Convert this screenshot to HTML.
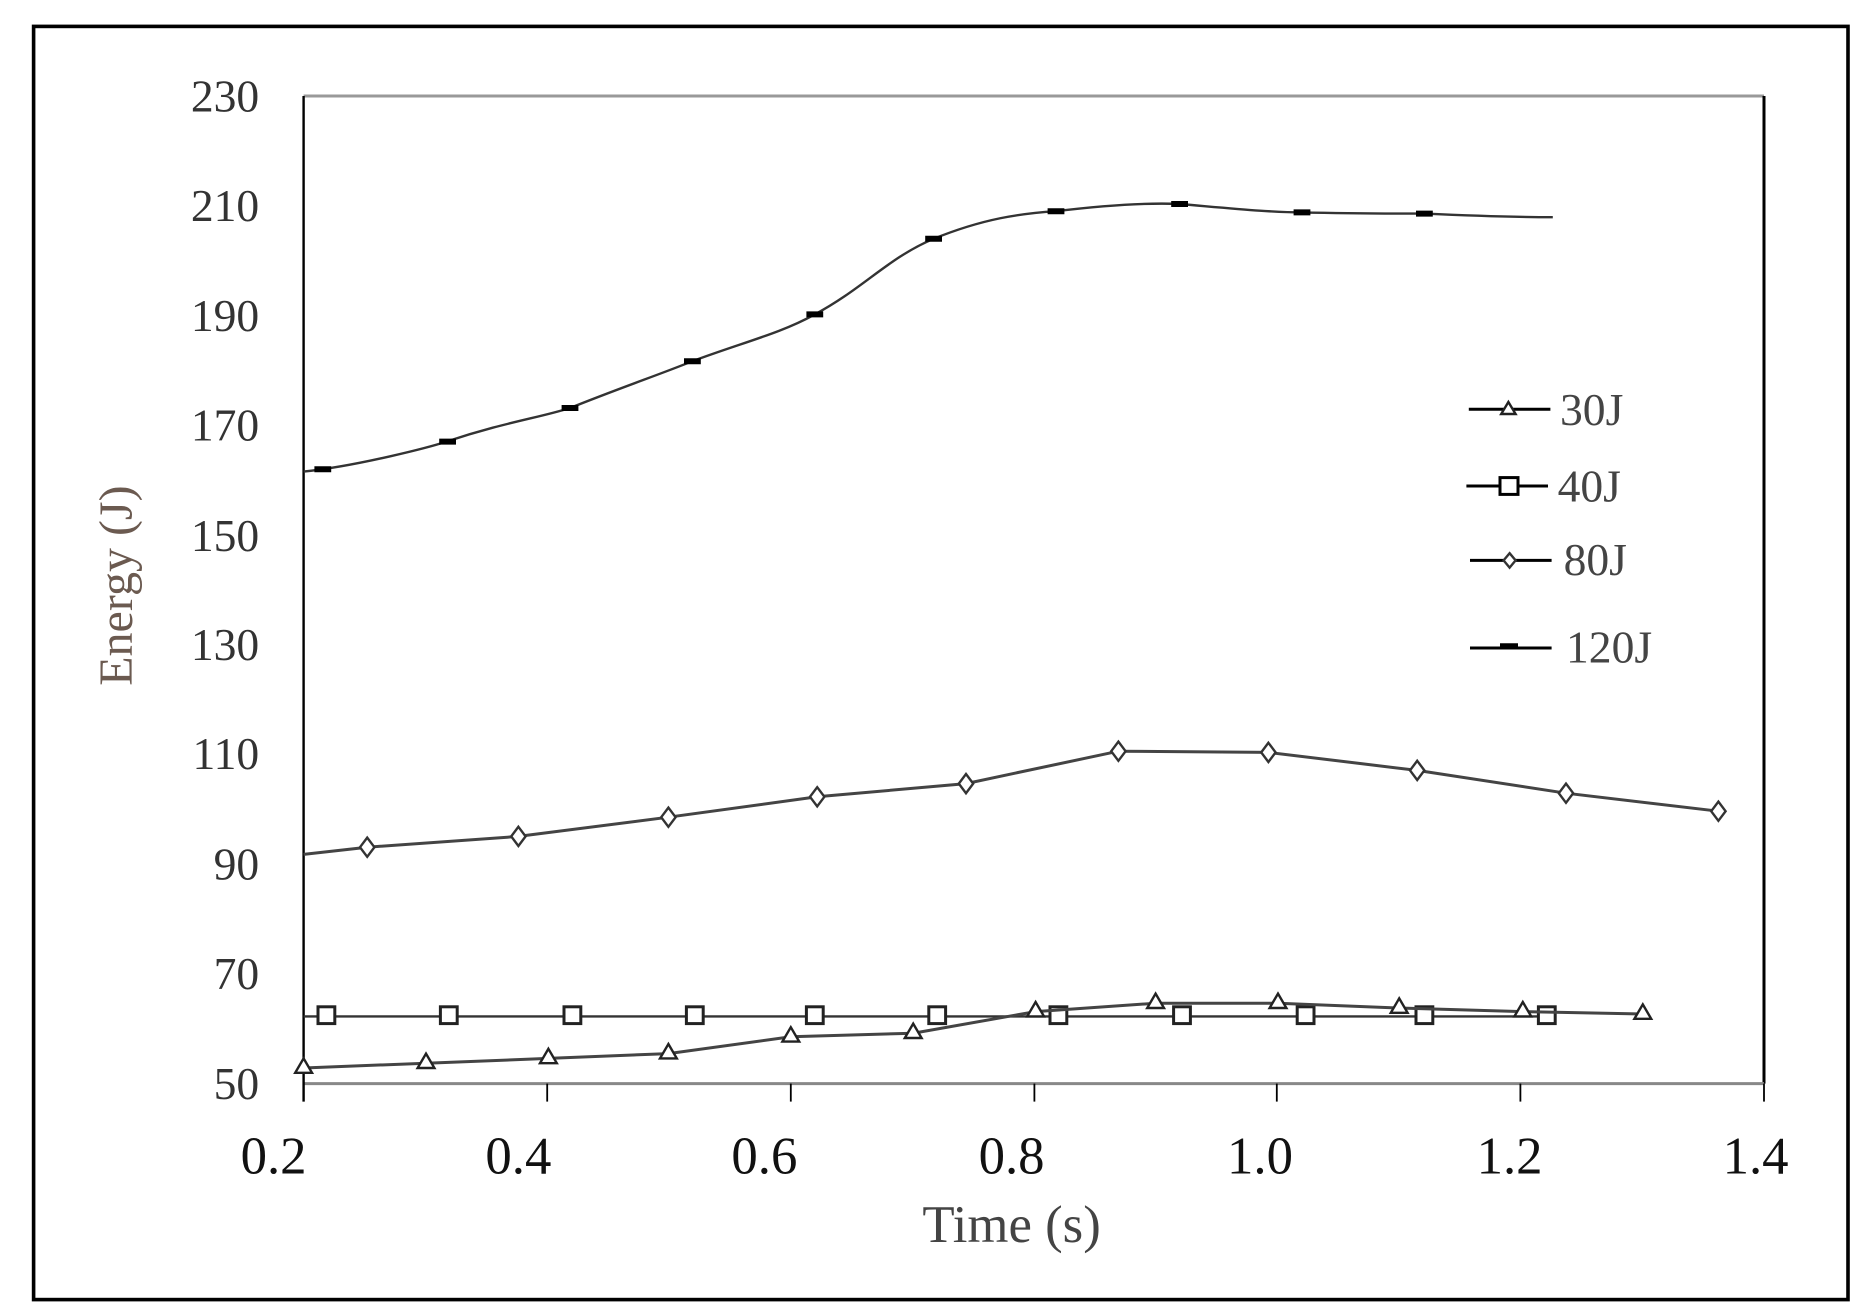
<!DOCTYPE html>
<html><head><style>html,body{margin:0;padding:0;background:#fff}svg{display:block}</style></head>
<body>
<svg width="1872" height="1310" viewBox="0 0 1560 1091.67" xmlns="http://www.w3.org/2000/svg" font-family="Liberation Serif, serif">
<rect x="0" y="0" width="1560" height="1092" fill="#fff"/>
<rect x="28" y="22" width="1512" height="1061" fill="none" stroke="#000" stroke-width="3"/>
<!-- plot box -->
<line x1="253" y1="80" x2="1470" y2="80" stroke="#999" stroke-width="2.5"/>
<line x1="1470" y1="80" x2="1470" y2="903" stroke="#000" stroke-width="2.5"/>
<line x1="253" y1="903" x2="1470" y2="903" stroke="#888" stroke-width="2.5"/>
<line x1="253" y1="80" x2="253" y2="918" stroke="#000" stroke-width="2"/>
<g stroke="#000" stroke-width="1.5">
<line x1="456" y1="903" x2="456" y2="918"/><line x1="659" y1="903" x2="659" y2="918"/><line x1="862" y1="903" x2="862" y2="918"/><line x1="1064" y1="903" x2="1064" y2="918"/><line x1="1267" y1="903" x2="1267" y2="918"/><line x1="1470" y1="903" x2="1470" y2="918"/>
</g>
<g font-size="38" fill="#333" text-anchor="end">
<text x="216" y="93">230</text><text x="216" y="184">210</text><text x="216" y="276">190</text><text x="216" y="367">170</text><text x="216" y="459">150</text><text x="216" y="550">130</text><text x="216" y="641">110</text><text x="216" y="733">90</text><text x="216" y="824">70</text><text x="216" y="916">50</text>
</g>
<g font-size="44" fill="#111" text-anchor="middle">
<text x="228" y="978">0.2</text><text x="432" y="978">0.4</text><text x="637" y="978">0.6</text><text x="843" y="978">0.8</text><text x="1050" y="978">1.0</text><text x="1258" y="978">1.2</text><text x="1463" y="978">1.4</text>
</g>
<text x="843" y="1035" font-size="44" fill="#444" text-anchor="middle">Time (s)</text>
<text transform="translate(110,488) rotate(-90)" font-size="40" fill="#6b5a50" text-anchor="middle">Energy (J)</text>
<!-- 120J -->
<path d="M253,393 C300,388 360,372 372,368 C420,352 450,348 475,340 C520,322 550,312 577,301 C620,285 650,278 679,262 C720,240 740,215 778,199 C820,182 850,178 880,176 C930,170 960,169 983,170 C1030,174 1060,177 1085,177 C1130,178 1160,178 1187,178 C1230,180 1270,181 1294,181" fill="none" stroke="#333" stroke-width="2"/>
<g stroke="#000" stroke-width="5">
<line x1="262" y1="391" x2="276" y2="391"/><line x1="366" y1="368" x2="380" y2="368"/><line x1="468" y1="340" x2="482" y2="340"/><line x1="570" y1="301" x2="584" y2="301"/><line x1="672" y1="262" x2="686" y2="262"/><line x1="771" y1="199" x2="785" y2="199"/><line x1="873" y1="176" x2="887" y2="176"/><line x1="976" y1="170" x2="990" y2="170"/><line x1="1078" y1="177" x2="1092" y2="177"/><line x1="1180" y1="178" x2="1194" y2="178"/>
</g>
<!-- 80J -->
<path d="M253,712 L306,706 L432,697 L557,681 L681,664 L805,653 L932,626 L1057,627 L1181,642 L1305,661 L1432,676" fill="none" stroke="#444" stroke-width="2.5"/>
<g fill="#fff" stroke="#333" stroke-width="2">
<path d="M306,698 l6,8 l-6,8 l-6,-8z"/><path d="M432,689 l6,8 l-6,8 l-6,-8z"/><path d="M557,673 l6,8 l-6,8 l-6,-8z"/><path d="M681,656 l6,8 l-6,8 l-6,-8z"/><path d="M805,645 l6,8 l-6,8 l-6,-8z"/><path d="M932,618 l6,8 l-6,8 l-6,-8z"/><path d="M1057,619 l6,8 l-6,8 l-6,-8z"/><path d="M1181,634 l6,8 l-6,8 l-6,-8z"/><path d="M1305,653 l6,8 l-6,8 l-6,-8z"/><path d="M1432,668 l6,8 l-6,8 l-6,-8z"/>
</g>
<!-- 40J -->
<line x1="253" y1="847" x2="1290" y2="847" stroke="#333" stroke-width="2"/>
<g fill="#fff" stroke="#222" stroke-width="2.5">
<rect x="265" y="839" width="14" height="14"/><rect x="367" y="839" width="14" height="14"/><rect x="470" y="839" width="14" height="14"/><rect x="572" y="839" width="14" height="14"/><rect x="672" y="839" width="14" height="14"/><rect x="774" y="839" width="14" height="14"/><rect x="875" y="839" width="14" height="14"/><rect x="978" y="839" width="14" height="14"/><rect x="1081" y="839" width="14" height="14"/><rect x="1180" y="839" width="14" height="14"/><rect x="1282" y="839" width="14" height="14"/>
</g>
<!-- 30J -->
<path d="M253,890 L355,886 L457,882 L557,878 L659,864 L761,861 L863,843 L963,836 L1065,836 L1166,840 L1269,843 L1369,845" fill="none" stroke="#444" stroke-width="2.5"/>
<g fill="#fff" stroke="#222" stroke-width="2">
<path d="M253,882 l7,12 h-14z"/><path d="M355,878 l7,12 h-14z"/><path d="M457,874 l7,12 h-14z"/><path d="M557,870 l7,12 h-14z"/><path d="M659,856 l7,12 h-14z"/><path d="M761,853 l7,12 h-14z"/><path d="M863,835 l7,12 h-14z"/><path d="M963,828 l7,12 h-14z"/><path d="M1065,828 l7,12 h-14z"/><path d="M1166,832 l7,12 h-14z"/><path d="M1269,835 l7,12 h-14z"/><path d="M1369,837 l7,12 h-14z"/>
</g>
<!-- legend -->
<g stroke="#000" stroke-width="2.5">
<line x1="1224" y1="341" x2="1292" y2="341"/><line x1="1222" y1="405" x2="1290" y2="405"/><line x1="1225" y1="467" x2="1293" y2="467"/><line x1="1225" y1="540" x2="1293" y2="540"/>
</g>
<path d="M1257,335 l6,10 h-12z" fill="#fff" stroke="#222" stroke-width="2"/>
<rect x="1250" y="398" width="15" height="14" fill="#fff" stroke="#000" stroke-width="2.5"/>
<path d="M1258,461 l5,6 l-5,6 l-5,-6z" fill="#fff" stroke="#333" stroke-width="2"/>
<line x1="1250" y1="538" x2="1265" y2="538" stroke="#000" stroke-width="4"/>
<g font-size="38" fill="#444">
<text x="1300" y="354">30J</text><text x="1298" y="418">40J</text><text x="1303" y="479">80J</text><text x="1305" y="552">120J</text>
</g>
</svg>
</body></html>
